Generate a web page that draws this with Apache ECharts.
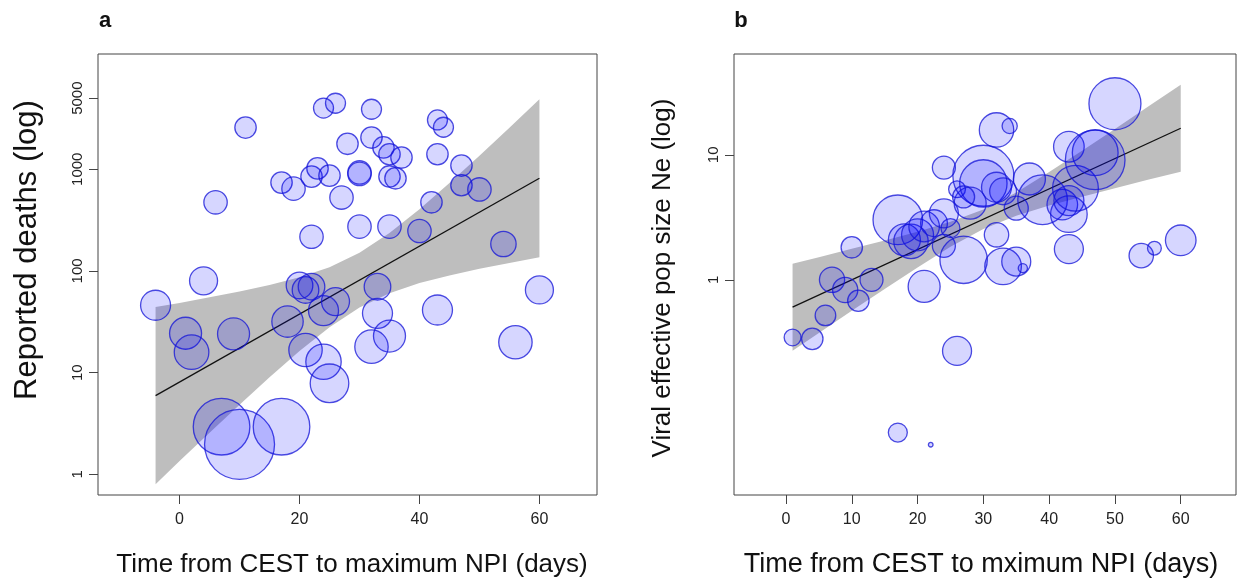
<!DOCTYPE html>
<html><head><meta charset="utf-8">
<script src="https://cdn.jsdelivr.net/npm/echarts@6/dist/echarts.min.js"></script>
<style>html,body{margin:0;padding:0;background:#fff}#c{width:1238px;height:585px}</style>
</head><body><div id="c"></div>
<script>
// ---------- Panel a: reported deaths vs time (days) ----------
const aDays = [-4, 4, 1, 2, 9, 6, 11, 7, 10, 17, 17, 19, 22, 23, 25, 24, 26, 32, 28, 32,
  34, 35, 37, 30, 30, 35, 36, 27, 30, 35, 40, 22, 42, 43, 44, 43, 47, 47, 50, 54,
  60, 56, 43, 33, 33, 35, 32, 20, 21, 22, 26, 24, 18, 21, 24, 25];
const aDeaths = [46, 80, 24.4, 15.9, 24, 473, 2570, 2.94, 1.97, 2.94, 739, 645, 846, 1020, 866, 4000, 4460, 3890, 1780, 2050,
  1640, 1405, 1303, 930, 900, 850, 815, 527, 273, 273, 247, 217, 473, 3057, 2590, 1405, 1087, 696, 633, 184,
  65, 19.9, 41.3, 70, 38.3, 22.9, 18.0, 72, 65, 70, 50, 40.7, 31.8, 16.7, 12.8, 7.85];
const aWeight = [1.5, 1.4, 1.6, 1.73, 1.6, 1.17, 1.07, 2.83, 3.5, 2.83, 1.07, 1.17, 1.07, 1.07, 1.07, 1.0, 1.0, 1.0, 1.07, 1.07,
  1.07, 1.07, 1.07, 1.17, 1.17, 1.07, 1.07, 1.17, 1.17, 1.17, 1.17, 1.17, 1.07, 1.0, 1.0, 1.07, 1.07, 1.07, 1.17, 1.27,
  1.4, 1.67, 1.5, 1.33, 1.5, 1.6, 1.67, 1.33, 1.33, 1.33, 1.4, 1.5, 1.57, 1.67, 1.77, 1.93];
const aFitX = [-4, 60];
const aFitY = [5.94, 815];
const aBandX = [-4, 0, 5, 10, 15, 20, 25, 30, 35, 40, 45, 50, 55, 60];
const aBandLo = [0.80, 1.35, 2.57, 4.84, 9.0, 16.3, 27.9, 43.6, 60.3, 75.9, 90.4, 105, 120, 136];
const aBandHi = [44.1, 48.5, 55.0, 62.7, 72.8, 86.7, 109, 151, 236, 404, 731, 1358, 2564, 4887];
const aXTicks = [0, 20, 40, 60];
const aYTicks = [1, 10, 100, 1000, 5000];

// ---------- Panel b: viral effective population size vs time ----------
const bDays = [1, 4, 6, 7, 9, 11, 13, 10, 21, 17, 22, 26, 17, 18, 19, 20, 21, 22.5, 25, 24,
  24, 24, 27, 32, 33, 35, 36, 43, 54, 56, 60, 26, 30, 30, 28, 32, 33, 35, 37, 39,
  42, 43, 43, 44, 43, 47, 47, 50, 32, 34, 27];
const bNe = [0.346, 0.337, 0.519, 1.0, 0.83, 0.68, 1.0, 1.82, 0.885, 0.060, 0.048, 0.27, 3.02, 2.09, 2.03, 2.29, 2.67, 2.84, 2.59, 1.87,
  7.9, 3.4, 1.445, 2.29, 1.28, 1.40, 1.24, 1.76, 1.56, 1.79, 2.07, 5.3, 6.8, 5.9, 4.1, 5.5, 5.1, 3.74, 6.4, 4.37,
  4.0, 4.3, 3.35, 5.4, 11.6, 10.4, 9.1, 25.6, 15.8, 17.0, 4.6];
const bWeight = [0.84, 1.07, 1.03, 1.26, 1.26, 1.07, 1.15, 1.07, 1.6, 0.95, 0.23, 1.45, 2.48, 1.6, 1.72, 1.6, 1.53, 1.34, 0.95, 1.15,
  1.15, 1.45, 2.37, 1.22, 1.83, 1.45, 0.46, 1.45, 1.22, 0.69, 1.53, 0.84, 3.05, 2.37, 1.6, 1.5, 1.34, 1.2, 1.6, 2.48,
  1.53, 1.5, 1.83, 2.29, 1.53, 2.29, 2.98, 2.6, 1.72, 0.76, 1.1];
const bFitX = [1, 60];
const bFitY = [0.604, 16.3];
const bBandX = [1, 5, 10, 15, 20, 25, 30, 35, 40, 45, 50, 55, 60];
const bBandLo = [0.271, 0.376, 0.565, 0.845, 1.256, 1.837, 2.553, 3.258, 3.926, 4.624, 5.408, 6.31, 7.33];
const bBandHi = [1.346, 1.517, 1.770, 2.065, 2.427, 2.911, 3.656, 5.00, 7.28, 10.79, 16.1, 24.2, 36.4];
const bXTicks = [0, 10, 20, 30, 40, 50, 60];
const bYTicks = [1, 10];

const L = Math.log10;
const FONT = 'Liberation Sans, Arial, sans-serif';
const chart = echarts.init(document.getElementById('c'), null, {renderer: 'canvas'});

function xAxisCfg(idx, min, max, ticks) {
  return {
    type: 'value', gridIndex: idx, min: min, max: max, position: 'bottom',
    axisLine: {show: false, onZero: false},
    axisTick: {show: true, inside: false, length: 9, customValues: ticks, lineStyle: {color: '#444', width: 1}},
    axisLabel: {customValues: ticks, fontSize: 16, color: '#222', margin: 17, fontFamily: FONT},
    splitLine: {show: false}
  };
}
function yAxisCfg(idx, min, max, ticks) {
  const lt = ticks.map(L);
  return {
    type: 'value', gridIndex: idx, min: L(min), max: L(max), position: 'left',
    axisLine: {show: false, onZero: false},
    axisTick: {show: true, inside: false, length: 9, customValues: lt, lineStyle: {color: '#444', width: 1}},
    axisLabel: {customValues: lt, rotate: 90, fontSize: 15, color: '#222', margin: 13, fontFamily: FONT,
      formatter: v => String(Math.round(Math.pow(10, v)))},
    splitLine: {show: false}
  };
}
function bandSeries(idx, xs, lo, hi) {
  return {
    type: 'custom', xAxisIndex: idx, yAxisIndex: idx, silent: true, z: 1,
    data: xs.map((x, i) => [x, L(lo[i]), L(hi[i])]),
    encode: {x: 0, y: [1, 2]},
    renderItem: (params, api) => {
      if (params.dataIndex !== 0) return null;
      const pts = [];
      for (let i = 0; i < xs.length; i++) pts.push(api.coord([xs[i], L(hi[i])]));
      for (let i = xs.length - 1; i >= 0; i--) pts.push(api.coord([xs[i], L(lo[i])]));
      return {type: 'polygon', shape: {points: pts}, style: {fill: '#bebebe'}};
    }
  };
}
function fitSeries(idx, xs, ys) {
  return {
    type: 'line', xAxisIndex: idx, yAxisIndex: idx, silent: true, z: 2,
    data: xs.map((x, i) => [x, L(ys[i])]), symbol: 'none',
    lineStyle: {color: '#111', width: 1.3}
  };
}
function bubbleSeries(idx, xs, ys, ws) {
  return {
    type: 'scatter', xAxisIndex: idx, yAxisIndex: idx, z: 3,
    data: xs.map((x, i) => [x, L(ys[i]), ws[i]]),
    symbol: 'circle',
    symbolSize: d => d[2] * 20,
    itemStyle: {color: 'rgba(0,0,255,0.2)', borderColor: 'rgba(20,20,215,0.95)', borderWidth: 1.3},
    emphasis: {disabled: true}
  };
}

const option = {
  backgroundColor: '#fff',
  animation: false,
  grid: [
    {left: 98, top: 54, width: 499, height: 441, show: true, borderColor: '#444', borderWidth: 1, backgroundColor: 'transparent'},
    {left: 734, top: 54, width: 502, height: 441, show: true, borderColor: '#444', borderWidth: 1, backgroundColor: 'transparent'}
  ],
  xAxis: [
    xAxisCfg(0, -13.6, 69.6, aXTicks),
    xAxisCfg(1, -7.9, 68.4, bXTicks)
  ],
  yAxis: [
    yAxisCfg(0, 0.626, 13600, aYTicks),
    yAxisCfg(1, 0.019, 64, bYTicks)
  ],
  series: [
    bandSeries(0, aBandX, aBandLo, aBandHi),
    fitSeries(0, aFitX, aFitY),
    bubbleSeries(0, aDays, aDeaths, aWeight),
    bandSeries(1, bBandX, bBandLo, bBandHi),
    fitSeries(1, bFitX, bFitY),
    bubbleSeries(1, bDays, bNe, bWeight)
  ],
  graphic: [
    {type: 'text', x: 105, y: 21, style: {text: 'a', font: 'bold 22px ' + FONT, fill: '#111', align: 'center', verticalAlign: 'middle'}},
    {type: 'text', x: 741, y: 21, style: {text: 'b', font: 'bold 22px ' + FONT, fill: '#111', align: 'center', verticalAlign: 'middle'}},
    {type: 'text', x: 352, y: 565, style: {text: 'Time from CEST to maximum NPI (days)', font: '26px ' + FONT, fill: '#111', align: 'center', verticalAlign: 'middle'}},
    {type: 'text', x: 981, y: 565, style: {text: 'Time from CEST to mximum NPI (days)', font: '27px ' + FONT, fill: '#111', align: 'center', verticalAlign: 'middle'}},
    {type: 'text', x: 27, y: 250, rotation: Math.PI / 2, style: {text: 'Reported deaths (log)', font: '31px ' + FONT, fill: '#111', align: 'center', verticalAlign: 'middle'}},
    {type: 'text', x: 663, y: 278, rotation: Math.PI / 2, style: {text: 'Viral effective pop size Ne (log)', font: '26px ' + FONT, fill: '#111', align: 'center', verticalAlign: 'middle'}}
  ]
};
chart.setOption(option);
</script>
</body></html>
